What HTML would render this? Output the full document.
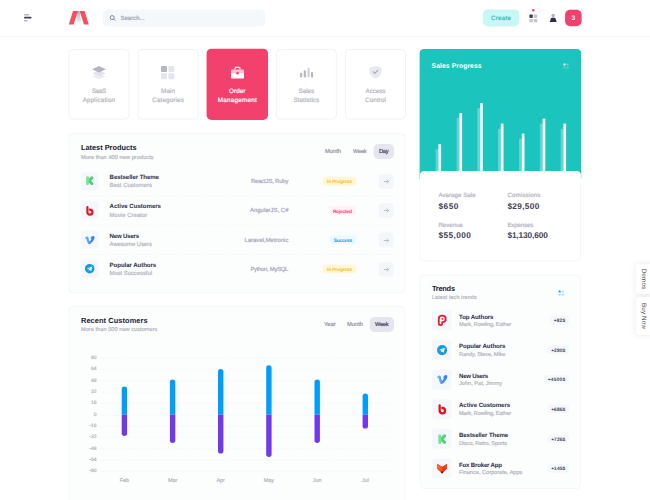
<!DOCTYPE html>
<html lang="en">
<head>
<meta charset="utf-8">
<title>Dashboard</title>
<style>
html,body{margin:0;padding:0;}
body{width:650px;height:500px;overflow:hidden;background:#fff;position:relative;font-family:"Liberation Sans", sans-serif;}
#app{position:absolute;left:0;top:0;width:650px;height:500px;overflow:hidden;}
#app>div,#app>svg{position:absolute;box-sizing:border-box;}
.t{position:absolute;white-space:nowrap;line-height:1;text-rendering:geometricPrecision;}
.m{-webkit-text-stroke:.2px currentColor;}
</style>
</head>
<body>
<div id="app">
<svg style="left:0;top:0" width="650" height="500" viewBox="0 0 650 500">
<rect x="0.00" y="36.00" width="650.00" height="1.00" rx="0" fill="#f2f4f7"/>
<rect x="103.00" y="9.60" width="162.00" height="17.00" rx="4.5" fill="#f5f8fa"/>
<rect x="482.80" y="9.40" width="36.60" height="17.10" rx="5" fill="#c9f7f5"/>
<rect x="565.10" y="9.75" width="16.50" height="16.40" rx="5" fill="#f1416c"/>
<rect x="68.90" y="49.50" width="60.00" height="69.60" rx="4.0" fill="#fff" stroke="#f1f3f6" stroke-width="1"/>
<rect x="138.05" y="49.50" width="60.00" height="69.60" rx="4.0" fill="#fff" stroke="#f1f3f6" stroke-width="1"/>
<rect x="206.60" y="48.70" width="61.40" height="71.30" rx="4.8" fill="#f1416c"/>
<rect x="276.35" y="49.50" width="60.00" height="69.60" rx="4.0" fill="#fff" stroke="#f1f3f6" stroke-width="1"/>
<rect x="345.50" y="49.50" width="60.00" height="69.60" rx="4.0" fill="#fff" stroke="#f1f3f6" stroke-width="1"/>
<rect x="68.90" y="133.70" width="336.20" height="159.40" rx="4.0" fill="#fcfdfd" stroke="#f4f6f9" stroke-width="1"/>
<rect x="373.60" y="144.00" width="20.40" height="15.00" rx="4.8" fill="#e4e6ef"/>
<rect x="81.00" y="172.20" width="17.60" height="17.80" rx="3" fill="#f5f8fa"/>
<rect x="323.10" y="176.70" width="33.10" height="9.00" rx="2" fill="#fff6da"/>
<rect x="378.70" y="174.00" width="14.80" height="14.70" rx="3.4" fill="#f4f7fa"/>
<line x1="81.00" x2="394.00" y1="195.90" y2="195.90" stroke="#f3f5f8" stroke-width="1" stroke-dasharray="1.2 1.2"/>
<rect x="81.00" y="201.50" width="17.60" height="17.80" rx="3" fill="#f5f8fa"/>
<rect x="328.70" y="206.00" width="27.50" height="9.00" rx="2" fill="#fff3f6"/>
<rect x="378.70" y="203.30" width="14.80" height="14.70" rx="3.4" fill="#f4f7fa"/>
<line x1="81.00" x2="394.00" y1="225.20" y2="225.20" stroke="#f3f5f8" stroke-width="1" stroke-dasharray="1.2 1.2"/>
<rect x="81.00" y="230.80" width="17.60" height="17.80" rx="3" fill="#f5f8fa"/>
<rect x="329.80" y="235.30" width="26.40" height="9.00" rx="2" fill="#eef8ff"/>
<rect x="378.70" y="232.60" width="14.80" height="14.70" rx="3.4" fill="#f4f7fa"/>
<line x1="81.00" x2="394.00" y1="254.50" y2="254.50" stroke="#f3f5f8" stroke-width="1" stroke-dasharray="1.2 1.2"/>
<rect x="81.00" y="260.10" width="17.60" height="17.80" rx="3" fill="#f5f8fa"/>
<rect x="323.10" y="264.60" width="33.10" height="9.00" rx="2" fill="#fff6da"/>
<rect x="378.70" y="261.90" width="14.80" height="14.70" rx="3.4" fill="#f4f7fa"/>
<rect x="68.90" y="306.50" width="336.20" height="199.00" rx="4.0" fill="#fcfdfd" stroke="#f4f6f9" stroke-width="1"/>
<rect x="369.60" y="317.00" width="24.40" height="15.00" rx="4.8" fill="#e4e6ef"/>
<rect x="420.10" y="49.50" width="160.60" height="211.40" rx="4.0" fill="#fff" stroke="#f4f6f9" stroke-width="1"/>
<path d="M419.60 179.00 V53.50 Q419.60 49.00 424.10 49.00 H576.70 Q581.20 49.00 581.20 53.50 V179.00 Z" fill="#1bc5bd"/>
<path d="M419.90 183.00 V175.50 Q419.90 171.00 424.40 171.00 H576.40 Q580.90 171.00 580.90 175.50 V183.00 Z" fill="#fff"/>
<rect x="420.10" y="275.10" width="160.60" height="213.40" rx="4.0" fill="#fcfdfd" stroke="#f4f6f9" stroke-width="1"/>
<rect x="432.00" y="310.20" width="19.80" height="20.00" rx="3.4" fill="#f5f8fa"/>
<rect x="550.00" y="315.60" width="19.00" height="8.80" rx="2" fill="#f5f8fa"/>
<rect x="432.00" y="339.85" width="19.80" height="20.00" rx="3.4" fill="#f5f8fa"/>
<rect x="547.40" y="345.25" width="21.60" height="8.80" rx="2" fill="#f5f8fa"/>
<rect x="432.00" y="369.50" width="19.80" height="20.00" rx="3.4" fill="#f5f8fa"/>
<rect x="544.00" y="374.90" width="25.00" height="8.80" rx="2" fill="#f5f8fa"/>
<rect x="432.00" y="399.15" width="19.80" height="20.00" rx="3.4" fill="#f5f8fa"/>
<rect x="547.40" y="404.55" width="21.60" height="8.80" rx="2" fill="#f5f8fa"/>
<rect x="432.00" y="428.80" width="19.80" height="20.00" rx="3.4" fill="#f5f8fa"/>
<rect x="547.40" y="434.20" width="21.60" height="8.80" rx="2" fill="#f5f8fa"/>
<rect x="432.00" y="458.45" width="19.80" height="20.00" rx="3.4" fill="#f5f8fa"/>
<rect x="547.40" y="463.85" width="21.60" height="8.80" rx="2" fill="#f5f8fa"/>
</svg>
<svg style="left:0;top:0" width="0" height="0"><defs><linearGradient id="gv" x1="0" y1="0" x2="1" y2="0"><stop offset="0" stop-color="#74b4fb"/><stop offset="1" stop-color="#2a78f3"/></linearGradient><linearGradient id="gb" x1="0" y1="0" x2="0" y2="1"><stop offset="0" stop-color="#f01c2a"/><stop offset="1" stop-color="#c90d18"/></linearGradient></defs></svg>
<svg style="left:24px;top:13px" width="9" height="10" viewBox="0 0 9 10"><rect x="0" y=".9" width="5.2" height="1.5" rx=".7" fill="#b5b5c3"/><rect x="0" y="3.8" width="7.6" height="1.8" rx=".8" fill="#3f4254"/><rect x="0" y="6.9" width="3.8" height="1.5" rx=".7" fill="#b5b5c3"/></svg>
<svg style="left:68px;top:10px" width="22" height="16" viewBox="0 0 22 16"><defs><linearGradient id="lg" x1="0" y1="0" x2="0" y2="1"><stop offset="0" stop-color="#aeb0bd"/><stop offset="1" stop-color="#fbfbfc"/></linearGradient></defs><polygon points="8.2,1 11.6,1 13.6,14.6 9,14.6" fill="url(#lg)"/><polygon points="5,1 10,1 5.6,14.6 .8,14.6" fill="#f64e60"/><polygon points="11.6,1 16.6,1 20.8,14.6 16,14.6" fill="#f64e60"/></svg>
<svg style="left:109px;top:14px" width="8" height="8" viewBox="0 0 8 8"><circle cx="3.2" cy="3.6" r="2" fill="none" stroke="#6c7086" stroke-width=".85"/><path d="M4.7 5.1 L5.9 6.3" stroke="#6c7086" stroke-width=".85" stroke-linecap="round"/></svg>
<svg style="left:528.5px;top:8.6px" width="10" height="15" viewBox="0 0 10 15"><circle cx="4.3" cy="1.3" r="1.2" fill="#f1416c"/><rect x=".4" y="5.55" width="3.4" height="3.4" rx=".6" fill="#3f4254"/><rect x="4.8" y="5.55" width="3.4" height="3.4" rx=".6" fill="#c4c4d0"/><rect x=".4" y="9.95" width="3.4" height="3.4" rx=".6" fill="#c4c4d0"/><rect x="4.8" y="9.95" width="3.4" height="3.4" rx=".6" fill="#c4c4d0"/></svg>
<svg style="left:549px;top:13px" width="9" height="10" viewBox="0 0 9 10"><circle cx="4.2" cy="2.6" r="1.8" fill="#b5b5c3"/><path d="M.7 9 L1.9 5.6 Q2.2 4.8 3.1 4.8 H5.3 Q6.2 4.8 6.5 5.6 L7.7 9 Z" fill="#2b2f45"/></svg>
<svg style="left:91.4px;top:65px" width="16" height="15" viewBox="0 0 16 15"><path d="M8 8.2 L1.2 11.2 L8 14.2 L14.8 11.2 Z" fill="#ecedf3"/><path d="M8 5.2 L1.2 8.2 L8 11.2 L14.8 8.2 Z" fill="#e2e3ec"/><path d="M8 1 L1 4.2 L8 7.4 L15 4.2 Z" fill="#b5b5c3"/></svg>
<svg style="left:160.4px;top:65.2px" width="16" height="15" viewBox="0 0 16 15"><rect x="1" y="1" width="6" height="6" rx=".8" fill="#b5b5c3"/><rect x="8.4" y="1" width="6" height="6" rx=".8" fill="#e4e6ef"/><rect x="1" y="8.2" width="6" height="6" rx=".8" fill="#e4e6ef"/><rect x="8.4" y="8.2" width="6" height="6" rx=".8" fill="#e4e6ef"/></svg>
<svg style="left:229.7px;top:66px" width="15" height="14" viewBox="0 0 15 14"><path d="M5 3.4 V2.4 Q5 1.4 6 1.4 H9 Q10 1.4 10 2.4 V3.4" fill="none" stroke="#fff" stroke-width="1.2"/><rect x="1" y="3.4" width="13" height="4.6" rx="1" fill="#fbc0cf"/><path d="M1 6.9 H14 V11.4 Q14 12.4 13 12.4 H2 Q1 12.4 1 11.4 Z" fill="#fff"/><circle cx="7.5" cy="7.3" r="1.3" fill="#f1416c"/></svg>
<svg style="left:298.9px;top:66.2px" width="15" height="13" viewBox="0 0 15 13"><rect x="1.1" y="6.7" width="2.1" height="4.7" rx="1" fill="#b5b5c3"/><rect x="4.8" y="4.3" width="2.1" height="7.1" rx="1" fill="#b5b5c3"/><rect x="8.5" y="1.8" width="2.1" height="9.6" rx="1" fill="#cfcfd9"/><rect x="12" y="6" width="2.1" height="5.4" rx="1" fill="#b5b5c3"/></svg>
<svg style="left:367.9px;top:65px" width="15" height="15" viewBox="0 0 15 15"><path d="M7.5 1 L13.4 2.6 V7 Q13.4 11.2 7.5 13.8 Q1.6 11.2 1.6 7 V2.6 Z" fill="#e9eaf1"/><path d="M5.3 6.8 L6.9 8.3 L9.8 5.4" fill="none" stroke="#a1a5b7" stroke-width="1.1" stroke-linecap="round" stroke-linejoin="round"/></svg>
<svg style="left:84.15px;top:175.35px" width="11.4" height="11.4" viewBox="0 0 10 10"><path d="M7 2.4 L4.5 5 L7 7.6" fill="none" stroke="#4fd076" stroke-width="2.5" stroke-linecap="round" stroke-linejoin="round"/><path d="M3.1 2.3 V7.7" fill="none" stroke="#79e396" stroke-width="2.5" stroke-linecap="round"/></svg>
<svg style="left:382.8px;top:177.90px" width="7" height="7" viewBox="0 0 7 7"><path d="M1.2 3.5 H5.5 M3.9 1.8 L5.6 3.5 L3.9 5.2" fill="none" stroke="#a9acbd" stroke-width=".75" stroke-linecap="round" stroke-linejoin="round"/></svg>
<svg style="left:84.15px;top:204.65px" width="11.4" height="11.4" viewBox="0 0 10 10"><path d="M3 1.9 V6.3 A2.2 2.2 0 1 0 5.2 4.1" fill="none" stroke="#e3121f" stroke-width="1.9" stroke-linecap="round"/></svg>
<svg style="left:382.8px;top:207.20px" width="7" height="7" viewBox="0 0 7 7"><path d="M1.2 3.5 H5.5 M3.9 1.8 L5.6 3.5 L3.9 5.2" fill="none" stroke="#a9acbd" stroke-width=".75" stroke-linecap="round" stroke-linejoin="round"/></svg>
<svg style="left:84.15px;top:233.95px" width="11.4" height="11.4" viewBox="0 0 10 10"><path d="M.8 3.4 Q2 2 3 2.1 Q3.9 2.3 4.2 4.4 Q4.5 6.4 4.9 6.4 Q5.4 6.4 6.3 4.8 Q6.8 3.7 5.6 3.8 Q6.3 1.6 8.2 1.7 Q9.7 1.8 9.1 3.9 Q8.4 6 6.4 8 Q5 9.3 4.1 9 Q3.2 8.6 2.6 6.2 Q2.1 4 1.8 3.9 Q1.5 3.8 1.1 4.1 Z" fill="url(#gv)"/></svg>
<svg style="left:382.8px;top:236.50px" width="7" height="7" viewBox="0 0 7 7"><path d="M1.2 3.5 H5.5 M3.9 1.8 L5.6 3.5 L3.9 5.2" fill="none" stroke="#a9acbd" stroke-width=".75" stroke-linecap="round" stroke-linejoin="round"/></svg>
<svg style="left:84.15px;top:263.25px" width="11.4" height="11.4" viewBox="0 0 10 10"><circle cx="5" cy="5" r="4.15" fill="#149be3"/><path d="M2.5 4.9 L7.2 3.1 L6.4 7.1 L4.9 6.1 L4.2 6.8 L4.1 5.6 L6.2 3.9 L3.6 5.3 Z" fill="#fff"/></svg>
<svg style="left:382.8px;top:265.80px" width="7" height="7" viewBox="0 0 7 7"><path d="M1.2 3.5 H5.5 M3.9 1.8 L5.6 3.5 L3.9 5.2" fill="none" stroke="#a9acbd" stroke-width=".75" stroke-linecap="round" stroke-linejoin="round"/></svg>
<svg style="left:0;top:340px" width="420" height="160" viewBox="0 340 420 160"><line x1="100" x2="389.6" y1="358.10" y2="358.10" stroke="#f2f4f7" stroke-width=".7" stroke-dasharray="1.4 1.2"/><line x1="100" x2="389.6" y1="369.44" y2="369.44" stroke="#f2f4f7" stroke-width=".7" stroke-dasharray="1.4 1.2"/><line x1="100" x2="389.6" y1="380.78" y2="380.78" stroke="#f2f4f7" stroke-width=".7" stroke-dasharray="1.4 1.2"/><line x1="100" x2="389.6" y1="392.12" y2="392.12" stroke="#f2f4f7" stroke-width=".7" stroke-dasharray="1.4 1.2"/><line x1="100" x2="389.6" y1="403.46" y2="403.46" stroke="#f2f4f7" stroke-width=".7" stroke-dasharray="1.4 1.2"/><line x1="100" x2="389.6" y1="414.80" y2="414.80" stroke="#f2f4f7" stroke-width=".7" stroke-dasharray="1.4 1.2"/><line x1="100" x2="389.6" y1="426.14" y2="426.14" stroke="#f2f4f7" stroke-width=".7" stroke-dasharray="1.4 1.2"/><line x1="100" x2="389.6" y1="437.48" y2="437.48" stroke="#f2f4f7" stroke-width=".7" stroke-dasharray="1.4 1.2"/><line x1="100" x2="389.6" y1="448.82" y2="448.82" stroke="#f2f4f7" stroke-width=".7" stroke-dasharray="1.4 1.2"/><line x1="100" x2="389.6" y1="460.16" y2="460.16" stroke="#f2f4f7" stroke-width=".7" stroke-dasharray="1.4 1.2"/><line x1="100" x2="389.6" y1="471.50" y2="471.50" stroke="#f2f4f7" stroke-width=".7" stroke-dasharray="1.4 1.2"/><path d="M121.7 414.8 V389.09999999999997 A2.7 2.7 0 0 1 127.10000000000001 389.09999999999997 V414.8 Z" fill="#009ef7"/><path d="M121.7 414.8 V433.3 A2.7 2.7 0 0 0 127.10000000000001 433.3 V414.8 Z" fill="#7239ea"/><path d="M169.9 414.8 V382.09999999999997 A2.7 2.7 0 0 1 175.3 382.09999999999997 V414.8 Z" fill="#009ef7"/><path d="M169.9 414.8 V440.3 A2.7 2.7 0 0 0 175.3 440.3 V414.8 Z" fill="#7239ea"/><path d="M218 414.8 V371.7 A2.7 2.7 0 0 1 223.4 371.7 V414.8 Z" fill="#009ef7"/><path d="M218 414.8 V450.90000000000003 A2.7 2.7 0 0 0 223.4 450.90000000000003 V414.8 Z" fill="#7239ea"/><path d="M266.2 414.8 V367.9 A2.7 2.7 0 0 1 271.59999999999997 367.9 V414.8 Z" fill="#009ef7"/><path d="M266.2 414.8 V454.3 A2.7 2.7 0 0 0 271.59999999999997 454.3 V414.8 Z" fill="#7239ea"/><path d="M314.5 414.8 V382.09999999999997 A2.7 2.7 0 0 1 319.9 382.09999999999997 V414.8 Z" fill="#009ef7"/><path d="M314.5 414.8 V440.3 A2.7 2.7 0 0 0 319.9 440.3 V414.8 Z" fill="#7239ea"/><path d="M362.6 414.8 V396.09999999999997 A2.7 2.7 0 0 1 368.0 396.09999999999997 V414.8 Z" fill="#009ef7"/><path d="M362.6 414.8 V425.90000000000003 A2.7 2.7 0 0 0 368.0 425.90000000000003 V414.8 Z" fill="#7239ea"/></svg>
<svg style="left:562.6px;top:63px" width="7" height="7" viewBox="0 0 7 7"><rect x=".5" y=".6" width="2.1" height="1.8" rx=".5" fill="#fff"/><rect x="3.6" y=".6" width="2.1" height="1.8" rx=".5" fill="#fff" opacity=".28"/><rect x=".5" y="3.7" width="2.1" height="1.8" rx=".5" fill="#fff" opacity=".28"/><rect x="3.6" y="3.7" width="2.1" height="1.8" rx=".5" fill="#fff" opacity=".28"/></svg>
<svg style="left:419.6px;top:95px" width="162" height="76" viewBox="419.6 95 162 76"><rect x="435.20" y="149.20" width="2.8" height="21.80" fill="#fff" opacity=".3"/><path d="M438 171 V144.8 Q438 144 438.8 144 H439.9 Q440.7 144 440.7 144.8 V171 Z" fill="#fff"/><rect x="456.20" y="118.20" width="2.8" height="52.80" fill="#fff" opacity=".3"/><path d="M459 171 V113.8 Q459 113 459.8 113 H460.9 Q461.7 113 461.7 113.8 V171 Z" fill="#fff"/><rect x="476.90" y="108.20" width="2.8" height="62.80" fill="#fff" opacity=".3"/><path d="M479.7 171 V103.8 Q479.7 103 480.5 103 H481.59999999999997 Q482.4 103 482.4 103.8 V171 Z" fill="#fff"/><rect x="497.60" y="128.80" width="2.8" height="42.20" fill="#fff" opacity=".3"/><path d="M500.4 171 V124.39999999999999 Q500.4 123.6 501.2 123.6 H502.29999999999995 Q503.09999999999997 123.6 503.09999999999997 124.39999999999999 V171 Z" fill="#fff"/><rect x="518.60" y="138.80" width="2.8" height="32.20" fill="#fff" opacity=".3"/><path d="M521.4 171 V134.4 Q521.4 133.6 522.1999999999999 133.6 H523.3 Q524.1 133.6 524.1 134.4 V171 Z" fill="#fff"/><rect x="539.40" y="123.60" width="2.8" height="47.40" fill="#fff" opacity=".3"/><path d="M542.2 171 V119.2 Q542.2 118.4 543.0 118.4 H544.1 Q544.9000000000001 118.4 544.9000000000001 119.2 V171 Z" fill="#fff"/><rect x="560.20" y="128.80" width="2.8" height="42.20" fill="#fff" opacity=".3"/><path d="M563 171 V124.39999999999999 Q563 123.6 563.8 123.6 H564.9 Q565.7 123.6 565.7 124.39999999999999 V171 Z" fill="#fff"/></svg>
<svg style="left:558.4px;top:289.5px" width="7" height="7" viewBox="0 0 7 7"><rect x=".7" y=".6" width="2" height="2" rx=".45" fill="#009ef7"/><rect x="3.9" y=".6" width="2" height="2" rx=".45" fill="#009ef7" opacity=".3"/><rect x=".7" y="3.8" width="2" height="2" rx=".45" fill="#009ef7" opacity=".3"/><rect x="3.9" y="3.8" width="2" height="2" rx=".45" fill="#009ef7" opacity=".3"/></svg>
<svg style="left:435.90px;top:314.10px" width="12.2" height="12.2" viewBox="0 0 10 10"><path d="M2.3 8 V3.9 Q2.3 1.4 5.1 1.4 Q8 1.4 8 4 Q8 6.5 5.1 6.6 V8 Q5.1 9.1 3.7 9.1 Q2.3 9.1 2.3 8 Z" fill="#fff" stroke="#ec1c2c" stroke-width="1.5" stroke-linejoin="round"/><circle cx="5.3" cy="4" r=".8" fill="#ec1c2c"/></svg>
<svg style="left:435.90px;top:343.75px" width="12.2" height="12.2" viewBox="0 0 10 10"><circle cx="5" cy="5" r="4.15" fill="#149be3"/><path d="M2.5 4.9 L7.2 3.1 L6.4 7.1 L4.9 6.1 L4.2 6.8 L4.1 5.6 L6.2 3.9 L3.6 5.3 Z" fill="#fff"/></svg>
<svg style="left:435.90px;top:373.40px" width="12.2" height="12.2" viewBox="0 0 10 10"><path d="M.8 3.4 Q2 2 3 2.1 Q3.9 2.3 4.2 4.4 Q4.5 6.4 4.9 6.4 Q5.4 6.4 6.3 4.8 Q6.8 3.7 5.6 3.8 Q6.3 1.6 8.2 1.7 Q9.7 1.8 9.1 3.9 Q8.4 6 6.4 8 Q5 9.3 4.1 9 Q3.2 8.6 2.6 6.2 Q2.1 4 1.8 3.9 Q1.5 3.8 1.1 4.1 Z" fill="url(#gv)"/></svg>
<svg style="left:435.90px;top:403.05px" width="12.2" height="12.2" viewBox="0 0 10 10"><path d="M3 1.9 V6.3 A2.2 2.2 0 1 0 5.2 4.1" fill="none" stroke="#e3121f" stroke-width="1.9" stroke-linecap="round"/></svg>
<svg style="left:435.90px;top:432.70px" width="12.2" height="12.2" viewBox="0 0 10 10"><path d="M7 2.4 L4.5 5 L7 7.6" fill="none" stroke="#4fd076" stroke-width="2.5" stroke-linecap="round" stroke-linejoin="round"/><path d="M3.1 2.3 V7.7" fill="none" stroke="#79e396" stroke-width="2.5" stroke-linecap="round"/></svg>
<svg style="left:435.90px;top:462.35px" width="12.2" height="12.2" viewBox="0 0 10 10"><path d="M.9 1.4 L5 3.8 L9.1 1.4 L9 5.6 L5 9.4 L1 5.6 Z" fill="#ee3311"/><path d="M.9 1.4 L5 3.8 L5 9.4 L1 5.6 Z" fill="#ff5526"/><path d="M.9 1.4 L3.4 4.6 L1 5.6 Z" fill="#ff6e3c"/><path d="M9.1 1.4 L6.6 4.6 L9 5.6 Z" fill="#f9451c"/><path d="M4 8.2 L5 7.6 L6 8.2 L5 9.4 Z" fill="#2b1410"/></svg>
<div style="left:635.60px;top:263.60px;width:20.00px;height:30.40px;background:#fff;border-radius:3px;box-shadow:0 0 6px rgba(82,63,105,.12);"></div>
<div style="left:635.60px;top:297.00px;width:20.00px;height:38.00px;background:#fff;border-radius:3px;box-shadow:0 0 6px rgba(82,63,105,.12);"></div>
<div style="left:643px;top:278.8px;width:0;height:0;"><span class="t" style="transform:translate(-50%,-50%) rotate(90deg);font-size:6.3px;font-weight:500;color:#3f4254;left:0;top:0;letter-spacing:.15px">Demos</span></div>
<div style="left:643px;top:316px;width:0;height:0;"><span class="t" style="transform:translate(-50%,-50%) rotate(90deg);font-size:6.3px;font-weight:500;color:#3f4254;left:0;top:0;letter-spacing:.15px">Buy Now</span></div>
<span class="t m" style="left:120.40px;top:16.00px;font-size:6.1px;font-weight:500;color:#a1a5b7;letter-spacing:-0.024px;">Search...</span>
<span class="t m" style="left:491.00px;top:16.00px;font-size:6.2px;font-weight:500;color:#1bc5bd;letter-spacing:0.284px;">Create</span>
<span class="t" style="left:571.46px;top:16.00px;font-size:6.6px;font-weight:700;color:#fff;letter-spacing:0.000px;">3</span>
<span class="t m" style="left:91.70px;top:89.00px;font-size:6.3px;font-weight:500;color:#b5b5c3;letter-spacing:-0.335px;">SaaS</span>
<span class="t m" style="left:82.70px;top:98.00px;font-size:6.3px;font-weight:500;color:#b5b5c3;letter-spacing:0.159px;">Application</span>
<span class="t m" style="left:161.05px;top:89.00px;font-size:6.3px;font-weight:500;color:#b5b5c3;letter-spacing:0.115px;">Main</span>
<span class="t m" style="left:152.25px;top:98.00px;font-size:6.3px;font-weight:500;color:#b5b5c3;letter-spacing:0.127px;">Categories</span>
<span class="t m" style="left:229.00px;top:89.00px;font-size:6.3px;font-weight:500;color:#fff;letter-spacing:0.073px;">Order</span>
<span class="t m" style="left:217.70px;top:98.00px;font-size:6.3px;font-weight:500;color:#fff;letter-spacing:0.248px;">Management</span>
<span class="t m" style="left:298.60px;top:89.00px;font-size:6.3px;font-weight:500;color:#b5b5c3;letter-spacing:-0.066px;">Sales</span>
<span class="t m" style="left:293.50px;top:98.00px;font-size:6.3px;font-weight:500;color:#b5b5c3;letter-spacing:0.055px;">Statistics</span>
<span class="t m" style="left:365.50px;top:89.00px;font-size:6.3px;font-weight:500;color:#b5b5c3;letter-spacing:-0.059px;">Access</span>
<span class="t m" style="left:365.00px;top:98.00px;font-size:6.3px;font-weight:500;color:#b5b5c3;letter-spacing:0.115px;">Control</span>
<span class="t" style="left:81.00px;top:144.00px;font-size:7.4px;font-weight:700;color:#181c32;letter-spacing:-0.019px;">Latest Products</span>
<span class="t m" style="left:81.00px;top:156.00px;font-size:5.6px;font-weight:500;color:#b5b5c3;letter-spacing:0.068px;">More than 400 new products</span>
<span class="t m" style="left:325.00px;top:150.00px;font-size:5.8px;font-weight:500;color:#8f91a6;letter-spacing:-0.031px;">Month</span>
<span class="t m" style="left:353.00px;top:150.00px;font-size:5.6px;font-weight:500;color:#8f91a6;letter-spacing:-0.201px;">Week</span>
<span class="t m" style="left:379.00px;top:150.00px;font-size:5.8px;font-weight:500;color:#3f4254;letter-spacing:-0.356px;">Day</span>
<span class="t" style="left:109.60px;top:175.00px;font-size:6.1px;font-weight:700;color:#2a2e44;letter-spacing:-0.071px;">Bestseller Theme</span>
<span class="t m" style="left:109.60px;top:184.00px;font-size:5.9px;font-weight:500;color:#b5b5c3;letter-spacing:0.038px;">Best Customers</span>
<span class="t m" style="left:251.00px;top:180.00px;font-size:5.9px;font-weight:500;color:#a6a8ba;letter-spacing:-0.158px;">ReactJS, Ruby</span>
<span class="t" style="left:327.00px;top:181.00px;font-size:4.9px;font-weight:700;color:#fbc016;letter-spacing:-0.162px;">In Progress</span>
<span class="t" style="left:109.60px;top:204.00px;font-size:6.1px;font-weight:700;color:#2a2e44;letter-spacing:-0.029px;">Active Customers</span>
<span class="t m" style="left:109.60px;top:214.00px;font-size:5.9px;font-weight:500;color:#b5b5c3;letter-spacing:0.050px;">Movie Creator</span>
<span class="t m" style="left:250.00px;top:209.00px;font-size:5.9px;font-weight:500;color:#a6a8ba;letter-spacing:0.035px;">AngularJS, C#</span>
<span class="t" style="left:332.95px;top:211.00px;font-size:4.9px;font-weight:700;color:#f1416c;letter-spacing:-0.199px;">Rejected</span>
<span class="t" style="left:109.60px;top:234.00px;font-size:6.1px;font-weight:700;color:#2a2e44;letter-spacing:-0.196px;">New Users</span>
<span class="t m" style="left:109.60px;top:243.00px;font-size:5.9px;font-weight:500;color:#b5b5c3;letter-spacing:-0.032px;">Awesome Users</span>
<span class="t m" style="left:244.60px;top:239.00px;font-size:5.9px;font-weight:500;color:#a6a8ba;letter-spacing:0.017px;">Laravel,Metronic</span>
<span class="t" style="left:333.85px;top:240.00px;font-size:4.9px;font-weight:700;color:#0f9ff5;letter-spacing:-0.260px;">Success</span>
<span class="t" style="left:109.60px;top:263.00px;font-size:6.1px;font-weight:700;color:#2a2e44;letter-spacing:-0.065px;">Popular Authors</span>
<span class="t m" style="left:109.60px;top:272.00px;font-size:5.9px;font-weight:500;color:#b5b5c3;letter-spacing:-0.035px;">Most Successful</span>
<span class="t m" style="left:250.40px;top:268.00px;font-size:5.9px;font-weight:500;color:#a6a8ba;letter-spacing:-0.272px;">Python, MySQL</span>
<span class="t" style="left:327.00px;top:269.00px;font-size:4.9px;font-weight:700;color:#fbc016;letter-spacing:-0.162px;">In Progress</span>
<span class="t" style="left:81.00px;top:317.00px;font-size:7.4px;font-weight:700;color:#181c32;letter-spacing:0.086px;">Recent Customers</span>
<span class="t m" style="left:81.00px;top:328.00px;font-size:5.6px;font-weight:500;color:#b5b5c3;letter-spacing:0.044px;">More than 500 new customers</span>
<span class="t m" style="left:324.00px;top:323.00px;font-size:5.8px;font-weight:500;color:#8f91a6;letter-spacing:-0.040px;">Year</span>
<span class="t m" style="left:347.00px;top:323.00px;font-size:5.8px;font-weight:500;color:#8f91a6;letter-spacing:-0.031px;">Month</span>
<span class="t m" style="left:375.10px;top:323.00px;font-size:5.6px;font-weight:500;color:#3f4254;letter-spacing:-0.268px;">Week</span>
<span class="t m" style="left:91.04px;top:356.00px;font-size:5px;font-weight:400;color:#b5b5c3;letter-spacing:0.000px;">80</span>
<span class="t m" style="left:91.04px;top:367.00px;font-size:5px;font-weight:400;color:#b5b5c3;letter-spacing:0.000px;">64</span>
<span class="t m" style="left:91.04px;top:379.00px;font-size:5px;font-weight:400;color:#b5b5c3;letter-spacing:0.000px;">48</span>
<span class="t m" style="left:91.04px;top:390.00px;font-size:5px;font-weight:400;color:#b5b5c3;letter-spacing:0.000px;">32</span>
<span class="t m" style="left:91.04px;top:401.00px;font-size:5px;font-weight:400;color:#b5b5c3;letter-spacing:0.000px;">16</span>
<span class="t m" style="left:93.82px;top:413.00px;font-size:5px;font-weight:400;color:#b5b5c3;letter-spacing:0.000px;">0</span>
<span class="t m" style="left:89.37px;top:424.00px;font-size:5px;font-weight:400;color:#b5b5c3;letter-spacing:0.000px;">-16</span>
<span class="t m" style="left:89.37px;top:435.00px;font-size:5px;font-weight:400;color:#b5b5c3;letter-spacing:0.000px;">-32</span>
<span class="t m" style="left:89.37px;top:447.00px;font-size:5px;font-weight:400;color:#b5b5c3;letter-spacing:0.000px;">-48</span>
<span class="t m" style="left:89.37px;top:458.00px;font-size:5px;font-weight:400;color:#b5b5c3;letter-spacing:0.000px;">-64</span>
<span class="t m" style="left:89.37px;top:469.00px;font-size:5px;font-weight:400;color:#b5b5c3;letter-spacing:0.000px;">-80</span>
<span class="t m" style="left:119.75px;top:479.00px;font-size:5.4px;font-weight:400;color:#b5b5c3;letter-spacing:0.000px;">Feb</span>
<span class="t m" style="left:167.95px;top:479.00px;font-size:5.4px;font-weight:400;color:#b5b5c3;letter-spacing:0.000px;">Mar</span>
<span class="t m" style="left:216.50px;top:479.00px;font-size:5.4px;font-weight:400;color:#b5b5c3;letter-spacing:0.000px;">Apr</span>
<span class="t m" style="left:263.81px;top:479.00px;font-size:5.4px;font-weight:400;color:#b5b5c3;letter-spacing:0.000px;">May</span>
<span class="t m" style="left:312.85px;top:479.00px;font-size:5.4px;font-weight:400;color:#b5b5c3;letter-spacing:0.000px;">Jun</span>
<span class="t m" style="left:361.85px;top:479.00px;font-size:5.4px;font-weight:400;color:#b5b5c3;letter-spacing:0.000px;">Jul</span>
<span class="t" style="left:431.60px;top:64.00px;font-size:6.8px;font-weight:700;color:#fff;letter-spacing:0.067px;">Sales Progress</span>
<span class="t m" style="left:438.40px;top:193.00px;font-size:6.2px;font-weight:500;color:#b5b5c3;letter-spacing:0.014px;">Avarage Sale</span>
<span class="t" style="left:438.40px;top:202.00px;font-size:8.3px;font-weight:700;color:#3f4254;letter-spacing:0.510px;">$650</span>
<span class="t m" style="left:507.40px;top:193.00px;font-size:6.2px;font-weight:500;color:#b5b5c3;letter-spacing:0.113px;">Comissions</span>
<span class="t" style="left:507.40px;top:202.00px;font-size:8.3px;font-weight:700;color:#3f4254;letter-spacing:0.333px;">$29,500</span>
<span class="t m" style="left:438.40px;top:223.00px;font-size:6.2px;font-weight:500;color:#b5b5c3;letter-spacing:-0.030px;">Revenue</span>
<span class="t" style="left:438.40px;top:231.00px;font-size:8.3px;font-weight:700;color:#3f4254;letter-spacing:0.433px;">$55,000</span>
<span class="t m" style="left:507.40px;top:223.00px;font-size:6.2px;font-weight:500;color:#b5b5c3;letter-spacing:-0.170px;">Expenses</span>
<span class="t" style="left:507.40px;top:231.00px;font-size:8.3px;font-weight:700;color:#3f4254;letter-spacing:-0.126px;">$1,130,600</span>
<span class="t" style="left:432.00px;top:285.00px;font-size:7.4px;font-weight:700;color:#181c32;letter-spacing:-0.247px;">Trends</span>
<span class="t m" style="left:432.00px;top:296.00px;font-size:5.4px;font-weight:500;color:#b5b5c3;letter-spacing:0.102px;">Latest tech trends</span>
<span class="t" style="left:459.00px;top:315.00px;font-size:6.1px;font-weight:700;color:#2a2e44;letter-spacing:-0.115px;">Top Authors</span>
<span class="t m" style="left:459.00px;top:323.00px;font-size:5.6px;font-weight:500;color:#b5b5c3;letter-spacing:-0.116px;">Mark, Rowling, Esther</span>
<span class="t" style="left:553.80px;top:320.00px;font-size:4.9px;font-weight:700;color:#484c61;letter-spacing:0.123px;">+82$</span>
<span class="t" style="left:459.00px;top:344.00px;font-size:6.1px;font-weight:700;color:#2a2e44;letter-spacing:-0.080px;">Popular Authors</span>
<span class="t m" style="left:459.00px;top:353.00px;font-size:5.6px;font-weight:500;color:#b5b5c3;letter-spacing:-0.100px;">Randy, Steve, Mike</span>
<span class="t" style="left:551.20px;top:350.00px;font-size:4.9px;font-weight:700;color:#484c61;letter-spacing:0.063px;">+280$</span>
<span class="t" style="left:459.00px;top:374.00px;font-size:6.1px;font-weight:700;color:#2a2e44;letter-spacing:-0.246px;">New Users</span>
<span class="t m" style="left:459.00px;top:382.00px;font-size:5.6px;font-weight:500;color:#b5b5c3;letter-spacing:0.006px;">John, Pat, Jimmy</span>
<span class="t" style="left:547.80px;top:379.00px;font-size:4.9px;font-weight:700;color:#484c61;letter-spacing:0.186px;">+4500$</span>
<span class="t" style="left:459.00px;top:403.00px;font-size:6.1px;font-weight:700;color:#2a2e44;letter-spacing:-0.042px;">Active Customers</span>
<span class="t m" style="left:459.00px;top:412.00px;font-size:5.6px;font-weight:500;color:#b5b5c3;letter-spacing:-0.116px;">Mark, Rowling, Esther</span>
<span class="t" style="left:551.20px;top:409.00px;font-size:4.9px;font-weight:700;color:#484c61;letter-spacing:0.063px;">+686$</span>
<span class="t" style="left:459.00px;top:433.00px;font-size:6.1px;font-weight:700;color:#2a2e44;letter-spacing:-0.085px;">Bestseller Theme</span>
<span class="t m" style="left:459.00px;top:442.00px;font-size:5.6px;font-weight:500;color:#b5b5c3;letter-spacing:-0.109px;">Disco, Retro, Sports</span>
<span class="t" style="left:551.20px;top:439.00px;font-size:4.9px;font-weight:700;color:#484c61;letter-spacing:0.063px;">+726$</span>
<span class="t" style="left:459.00px;top:463.00px;font-size:6.1px;font-weight:700;color:#2a2e44;letter-spacing:-0.191px;">Fox Broker App</span>
<span class="t m" style="left:459.00px;top:471.00px;font-size:5.6px;font-weight:500;color:#b5b5c3;letter-spacing:-0.002px;">Finance, Corporate, Apps</span>
<span class="t" style="left:551.20px;top:468.00px;font-size:4.9px;font-weight:700;color:#484c61;letter-spacing:0.063px;">+145$</span>
</div>
</body>
</html>
